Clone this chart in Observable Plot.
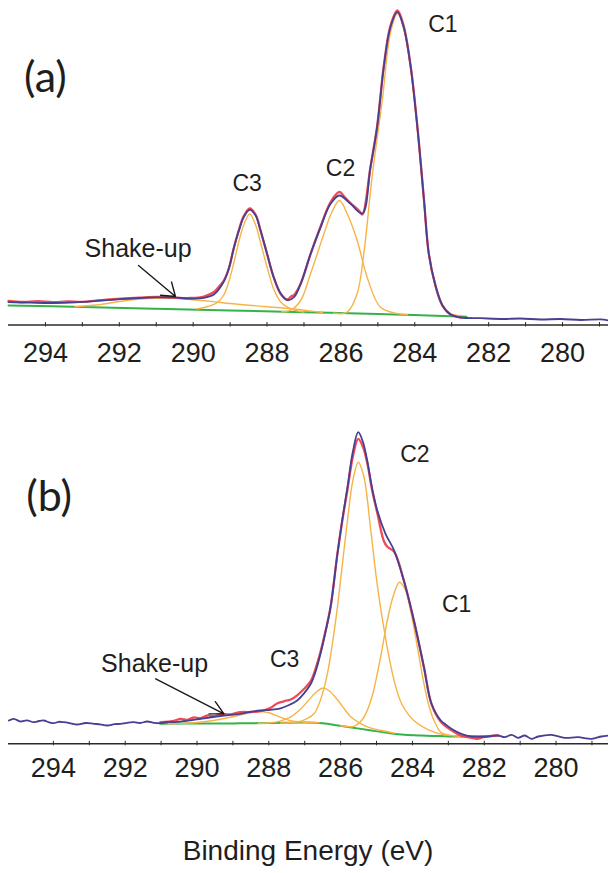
<!DOCTYPE html>
<html>
<head>
<meta charset="utf-8">
<script src="https://cdn.jsdelivr.net/npm/d3@7"></script>
<script src="https://cdn.jsdelivr.net/npm/@observablehq/plot@0.6"></script>
<style>
  html, body { margin: 0; padding: 0; background: #fff; }
  #wrap { position: relative; width: 608px; height: 873px; overflow: hidden; font-family: "Liberation Sans", Arial, sans-serif; }
  #pa { position: absolute; left: 0; top: 0; }
  #pb { position: absolute; left: 0; top: 372px; }
  #cap { position: absolute; left: 8px; width: 600px; top: 837px; text-align: center; font-size: 28px; line-height: 28px; color: #1e1e1e; }
</style>
</head>
<body>
<div id="wrap">
  <div id="pa"></div>
  <div id="pb"></div>
  <div id="cap">Binding Energy (eV)</div>
</div>
<script>
// ---------- tick values ----------
const majorTicks = [294, 292, 290, 288, 286, 284, 282, 280];
const minorTicks = [294, 293, 292, 291, 290, 289, 288, 287, 286, 285, 284, 283, 282, 281, 280, 279];

// ---------- panel (a): [binding energy eV, intensity a.u.] ----------
const aEnvelope = [
  [295.00, 22.8], [294.40, 22.3], [293.80, 22.0], [293.20, 22.6], [292.51, 24.3], [291.97, 25.8],
  [291.45, 27.0], [291.00, 27.6], [290.53, 27.6], [290.07, 26.4], [289.71, 27.2], [289.44, 30.5],
  [289.17, 43.5], [289.03, 57.0], [288.90, 77.0], [288.76, 94.5], [288.63, 108.0], [288.47, 115.2],
  [288.31, 109.5], [288.18, 95.0], [288.00, 71.2], [287.82, 47.8], [287.63, 31.5], [287.45, 24.8],
  [287.27, 27.8], [287.09, 41.2], [286.82, 71.2], [286.55, 97.8], [286.28, 121.2], [286.04, 129.5],
  [285.74, 121.2], [285.42, 111.5], [285.20, 157.8], [285.02, 197.8], [284.84, 257.8], [284.66, 297.8],
  [284.47, 312.8], [284.30, 297.8], [284.11, 257.8], [283.93, 197.8], [283.75, 124.5], [283.62, 71.2],
  [283.44, 39.5], [283.25, 19.5], [283.03, 10.5], [282.76, 7.5], [282.22, 6.8], [281.60, 6.0],
  [281.14, 6.5], [280.60, 5.5], [280.05, 6.0], [279.50, 5.0], [278.97, 5.6], [278.755, 4.5]
];
const aRaw = [
  [295.00, 24.0], [294.60, 23.0], [294.20, 23.8], [293.80, 22.8], [293.40, 23.6], [293.00, 23.2],
  [292.51, 24.8], [291.97, 26.4], [291.45, 27.4], [291.00, 28.2], [290.53, 27.4], [290.07, 27.0],
  [289.71, 28.5], [289.44, 33.0], [289.30, 38.5], [289.17, 44.5], [289.03, 57.0], [288.90, 77.0],
  [288.76, 95.5], [288.63, 109.0], [288.47, 116.5], [288.31, 110.5], [288.18, 95.0], [288.00, 71.2],
  [287.82, 47.8], [287.63, 31.0], [287.45, 25.5], [287.35, 28.5], [287.27, 30.0], [287.09, 41.2],
  [286.82, 71.2], [286.55, 98.5], [286.28, 123.0], [286.04, 133.0], [285.90, 128.0], [285.74, 122.0],
  [285.50, 114.0], [285.42, 110.5], [285.20, 157.8], [285.02, 198.5], [284.84, 258.5], [284.66, 299.0],
  [284.47, 314.5], [284.30, 299.0], [284.11, 258.5], [283.93, 198.5], [283.75, 125.0], [283.62, 71.2],
  [283.44, 39.5], [283.25, 19.5], [283.03, 10.5], [282.76, 7.5]
];
const aBackground = [
  [295.0, 19.5], [293.0, 18.0], [291.0, 16.3], [289.0, 14.5], [287.0, 12.8], [285.0, 11.0],
  [284.0, 10.0], [283.0, 8.8], [282.6, 8.3]
];
const aC1 = [
  [286.20, 11.7], [285.83, 12.8], [285.56, 31.5], [285.38, 71.5], [285.15, 150.0], [284.88, 224.5],
  [284.66, 292.0], [284.47, 311.5], [284.30, 296.0], [284.11, 256.0], [283.93, 196.5], [283.75, 123.5],
  [283.62, 70.5], [283.44, 37.5], [283.25, 18.5], [283.03, 11.0], [282.76, 9.3]
];
const aC2 = [
  [287.60, 13.2], [287.36, 14.8], [287.09, 24.5], [286.82, 51.5], [286.46, 91.2], [286.25, 112.5],
  [286.04, 124.5], [285.81, 109.5], [285.56, 84.5], [285.29, 47.8], [284.93, 17.8], [284.47, 11.5],
  [284.20, 10.3]
];
const aC3 = [
  [289.90, 16.0], [289.60, 18.5], [289.35, 22.5], [289.17, 30.0], [289.03, 44.0], [288.90, 62.0],
  [288.76, 84.0], [288.63, 100.0], [288.47, 111.0], [288.31, 100.0], [288.18, 83.0], [288.00, 58.0],
  [287.82, 36.0], [287.63, 23.0], [287.45, 17.8], [287.27, 15.0], [287.00, 13.0]
];
const aShakeUp = [
  [293.2, 18.3], [292.5, 20.5], [292.0, 23.5], [291.5, 25.8], [291.0, 26.8], [290.5, 26.6],
  [290.0, 25.3], [289.5, 23.6], [289.0, 21.5], [288.5, 19.8], [288.0, 18.3], [287.5, 16.8],
  [287.0, 14.8], [286.5, 12.5]
];
const aLabels = [
  {text: "C1", x: 283.24, y: 292.8},
  {text: "C2", x: 286.01, y: 149.5},
  {text: "C3", x: 288.54, y: 134.5}
];
const aNote = [{text: "Shake-up", x: 291.49, y: 67.8}];
const aArrow = [{x1: 291.48, y1: 59.5, x2: 290.48, y2: 28.5}];
const aPanel = [{text: "(a)", x: 294.0, y: 233.5}];

// ---------- panel (b): [binding energy eV, intensity a.u.] ----------
const bEnvelope = [
  [295.24, 23.3], [295.10, 25.0], [294.92, 22.3], [294.74, 23.5], [294.55, 21.6], [294.40, 22.8],
  [294.27, 23.3], [294.12, 21.5], [293.99, 20.6], [293.85, 22.0], [293.71, 21.6], [293.52, 20.5],
  [293.34, 19.3], [293.10, 20.8], [292.87, 20.0], [292.70, 19.5], [292.50, 18.3], [292.30, 19.6],
  [292.13, 20.0], [291.95, 21.0], [291.76, 21.6], [291.58, 20.8], [291.39, 22.3], [291.20, 21.0],
  [291.02, 20.6], [290.84, 21.8], [290.65, 21.6], [290.30, 23.0], [289.90, 25.0], [289.55, 26.8],
  [289.25, 28.3], [288.79, 30.0], [288.50, 32.0], [288.23, 33.3], [287.95, 34.0], [287.67, 35.5],
  [287.45, 38.5], [287.21, 43.3], [287.03, 50.0], [286.83, 60.0], [286.70, 72.0], [286.56, 90.0],
  [286.42, 112.0], [286.28, 136.6], [286.09, 190.0], [285.95, 225.0], [285.81, 256.6], [285.66, 292.0],
  [285.51, 311.6], [285.38, 302.0], [285.26, 283.3], [285.12, 255.0], [284.98, 233.3], [284.75, 210.0],
  [284.51, 193.3], [284.24, 163.3], [283.96, 123.3], [283.68, 76.6], [283.47, 40.0], [283.21, 23.3],
  [283.10, 20.0], [282.87, 14.0], [282.64, 10.0], [282.36, 7.3], [281.99, 7.0], [281.62, 8.3],
  [281.43, 6.6], [281.24, 9.0], [281.06, 6.0], [280.87, 8.3], [280.69, 5.0], [280.50, 7.3],
  [280.13, 9.0], [279.76, 6.0], [279.39, 6.6], [279.01, 5.0], [278.74, 7.3], [278.54, 8.3]
];
const bRaw = [
  [291.02, 21.6], [290.64, 23.0], [290.46, 25.0], [290.27, 24.0], [290.09, 26.3], [289.90, 25.6],
  [289.71, 28.3], [289.53, 27.6], [289.34, 29.8], [289.06, 29.5], [288.79, 31.6], [288.51, 31.8],
  [288.23, 32.6], [287.95, 36.0], [287.76, 40.6], [287.58, 42.5], [287.39, 44.3], [287.21, 48.5],
  [287.03, 54.5], [286.83, 63.0], [286.70, 75.0], [286.56, 92.0], [286.42, 113.0], [286.28, 137.0],
  [286.09, 190.0], [285.95, 224.0], [285.81, 254.0], [285.66, 287.0], [285.51, 305.0], [285.38, 297.0],
  [285.26, 281.0], [285.12, 253.0], [284.98, 231.0], [284.80, 203.0], [284.70, 197.0], [284.51, 192.0],
  [284.24, 163.3], [283.96, 123.3], [283.68, 76.6], [283.47, 40.0], [283.21, 22.0], [282.87, 12.5],
  [282.64, 8.0], [282.36, 6.0], [282.20, 5.0], [281.99, 7.0], [281.62, 8.3]
];
const bBackground = [
  [291.02, 20.0], [290.0, 20.3], [289.0, 20.4], [288.0, 20.8], [287.0, 21.3], [286.5, 20.5],
  [286.07, 18.3], [285.6, 15.8], [285.14, 13.3], [284.7, 11.0], [284.22, 9.0], [283.75, 8.2],
  [283.29, 7.8], [282.64, 7.3], [281.63, 8.0]
];
const bC1 = [
  [286.00, 18.0], [285.63, 17.5], [285.40, 24.0], [285.26, 33.3], [285.12, 48.0], [284.98, 70.0],
  [284.84, 96.0], [284.70, 123.3], [284.53, 148.3], [284.36, 161.6], [284.19, 153.3], [284.08, 138.0],
  [283.96, 116.6], [283.82, 88.0], [283.68, 60.0], [283.54, 38.0], [283.40, 23.3], [283.21, 11.6],
  [282.93, 8.3], [282.60, 7.4]
];
const bC2 = [
  [287.67, 20.8], [287.21, 21.8], [286.95, 25.0], [286.74, 30.0], [286.55, 45.0], [286.37, 70.0],
  [286.23, 100.0], [286.09, 136.6], [285.95, 180.0], [285.81, 223.3], [285.66, 263.3], [285.51, 281.6],
  [285.36, 268.3], [285.16, 213.3], [285.02, 170.0], [284.89, 136.6], [284.70, 96.0], [284.51, 63.3],
  [284.30, 40.0], [283.96, 23.3], [283.40, 11.6], [283.00, 8.5]
];
const bC3 = [
  [288.30, 20.5], [287.95, 21.0], [287.67, 23.0], [287.39, 27.0], [287.15, 33.5], [286.93, 42.0],
  [286.70, 51.0], [286.51, 55.6], [286.33, 53.3], [286.09, 44.0], [285.90, 35.0], [285.72, 27.0],
  [285.50, 21.5], [285.26, 17.0], [284.89, 13.5], [284.50, 10.5]
];
const bShakeUp = [
  [290.8, 20.0], [290.5, 20.4], [290.0, 21.3], [289.5, 23.5], [289.0, 27.0], [288.6, 30.5],
  [288.28, 32.3], [288.0, 31.0], [287.67, 26.5], [287.39, 23.0], [287.0, 21.5], [286.6, 21.0]
];
const bLabels = [
  {text: "C2", x: 283.93, y: 281.6},
  {text: "C1", x: 282.77, y: 131.6},
  {text: "C3", x: 287.56, y: 76.6}
];
const bNote = [{text: "Shake-up", x: 291.18, y: 72.3}];
const bArrow = [{x1: 291.15, y1: 65, x2: 289.25, y2: 30}];
const bPanel = [{text: "(b)", x: 294.12, y: 233.0}];

// ---------- styles ----------
const COL = {
  env: "#463f93", raw: "#ee4b57", comp: "#f6b447", bg: "#36b24a", axis: "#2b2b2b", text: "#1e1e1e"
};
const X = d => d[0], Y = d => d[1];

function panel({height, axisBottom, domainX, envelope, raw, bg, comps, labels, note, arrow, letter, tickPad, headAngle}) {
  return Plot.plot({
    width: 608,
    height,
    marginLeft: 8,
    marginRight: 0,
    marginTop: 0,
    marginBottom: height - axisBottom,
    x: {domain: domainX},
    y: {domain: [0, axisBottom], axis: null},
    style: {fontFamily: "'Liberation Sans', Arial, sans-serif", background: "#fff", overflow: "visible"},
    marks: [
      Plot.ruleY([0], {stroke: COL.axis, strokeWidth: 1.6}),
      Plot.ruleX(minorTicks, {y1: -2, y2: 2.5, stroke: COL.axis, strokeWidth: 1}),
      Plot.axisX(majorTicks, {tickSize: 0, tickPadding: tickPad, fontSize: 27, color: COL.text, tickFormat: d => String(d), label: null}),
      Plot.line(bg, {x: X, y: Y, stroke: COL.bg, strokeWidth: 2, curve: "catmull-rom"}),
      ...comps.map(c => Plot.line(c, {x: X, y: Y, stroke: COL.comp, strokeWidth: 1.4, curve: "catmull-rom"})),
      Plot.line(raw, {x: X, y: Y, stroke: COL.raw, strokeWidth: 2.3, curve: "catmull-rom"}),
      Plot.line(envelope, {x: X, y: Y, stroke: COL.env, strokeWidth: 1.8, curve: "catmull-rom"}),
      Plot.arrow(arrow, {x1: "x1", y1: "y1", x2: "x2", y2: "y2", stroke: "#1a1a1a", strokeWidth: 1.4, headLength: 16, headAngle}),
      Plot.text(labels, {x: "x", y: "y", text: "text", fontSize: 23, fill: COL.text, lineAnchor: "bottom", textAnchor: "middle"}),
      Plot.text(note, {x: "x", y: "y", text: "text", fontSize: 25, fill: COL.text, lineAnchor: "bottom", textAnchor: "middle"}),
      Plot.text(letter, {x: "x", y: "y", text: "text", fontSize: 43, fontFamily: "Lato, 'Open Sans', sans-serif", fill: COL.text, lineAnchor: "bottom", textAnchor: "middle"})
    ]
  });
}

document.getElementById("pa").appendChild(panel({
  height: 372, axisBottom: 324.5, domainX: [295.0, 278.755],
  envelope: aEnvelope, raw: aRaw, bg: aBackground, comps: [aShakeUp, aC3, aC2, aC1],
  labels: aLabels, note: aNote, arrow: aArrow, letter: aPanel, tickPad: 18, headAngle: 70
}));

document.getElementById("pb").appendChild(panel({
  height: 420, axisBottom: 371.3, domainX: [295.25, 278.54],
  envelope: bEnvelope, raw: bRaw, bg: bBackground, comps: [bShakeUp, bC3, bC2, bC1],
  labels: bLabels, note: bNote, arrow: bArrow, letter: bPanel, tickPad: 14, headAngle: 55
}));
</script>
</body>
</html>
